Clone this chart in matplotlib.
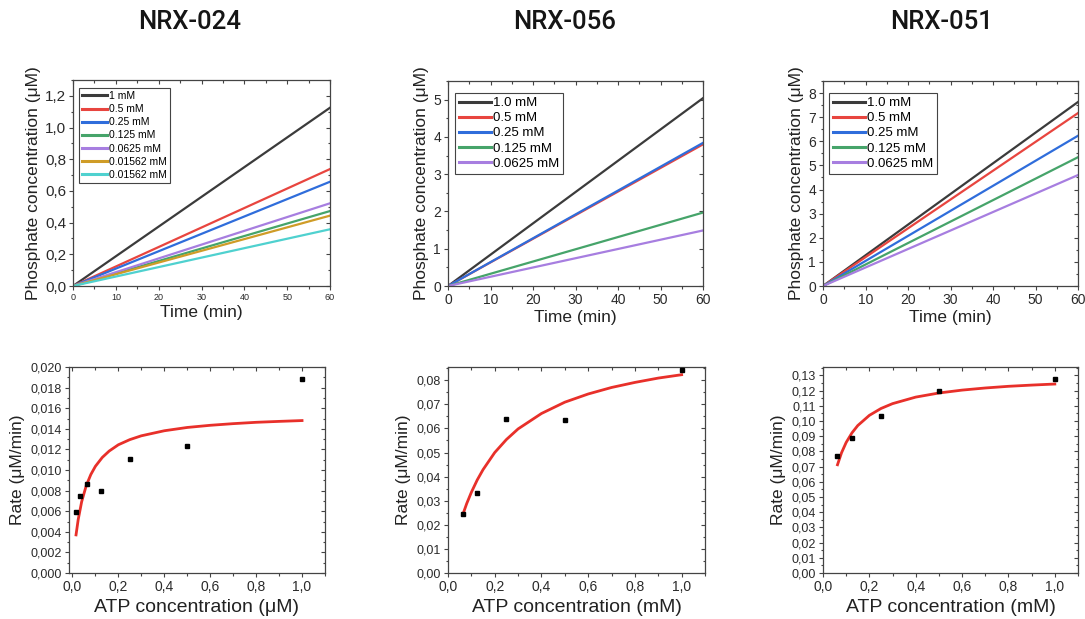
import matplotlib
matplotlib.use('Agg')
import matplotlib.pyplot as plt
from matplotlib.ticker import MultipleLocator, FuncFormatter

plt.rcParams['font.family'] = ['Liberation Sans', 'DejaVu Sans']

#%%
# Data
titles = ['NRX-024', 'NRX-056', 'NRX-051']
time_min = [0, 60]

# phosphate (uM) reached at 60 min, lines start at 0
labels_024 = ['1 mM', '0.5 mM', '0.25 mM', '0.125 mM', '0.0625 mM', '0.01562 mM', '0.01562 mM']
end_024 = [1.125, 0.738, 0.658, 0.473, 0.522, 0.444, 0.358]
labels_056 = ['1.0 mM', '0.5 mM', '0.25 mM', '0.125 mM', '0.0625 mM']
end_056 = [5.04, 3.80, 3.84, 1.97, 1.49]
labels_051 = ['1.0 mM', '0.5 mM', '0.25 mM', '0.125 mM', '0.0625 mM']
end_051 = [7.63, 7.17, 6.23, 5.34, 4.60]

colors = ['#3b3b3b', '#e8453f', '#2f6ddb', '#46a46a', '#a77ee0', '#cf9c27', '#4fd1cf']

# rates vs ATP
atp_024 = [0.0156, 0.03125, 0.0625, 0.125, 0.25, 0.5, 1.0]
rate_024 = [0.00596, 0.00748, 0.00867, 0.00796, 0.01104, 0.01233, 0.0188]
atp_056 = [0.0625, 0.125, 0.25, 0.5, 1.0]
rate_056 = [0.0246, 0.0331, 0.0640, 0.0636, 0.0844]
atp_051 = [0.0625, 0.125, 0.25, 0.5, 1.0]
rate_051 = [0.0767, 0.0888, 0.1032, 0.1197, 0.1276]

# fitted curves (red)
fit_x_024 = [0.0156, 0.025, 0.04, 0.06, 0.08, 0.1, 0.13, 0.16, 0.2, 0.25, 0.3, 0.4,
             0.5, 0.6, 0.7, 0.8, 0.9, 1.0]
fit_y_024 = [0.0037, 0.00518, 0.00691, 0.00848, 0.00956, 0.01036, 0.01122, 0.01184,
             0.01245, 0.01295, 0.01332, 0.01381, 0.01413, 0.01434, 0.0145, 0.01463,
             0.01472, 0.0148]
fit_x_056 = [0.0625, 0.08, 0.1, 0.125, 0.15, 0.2, 0.25, 0.3, 0.4, 0.5, 0.6, 0.7,
             0.8, 0.9, 1.0]
fit_y_056 = [0.0240, 0.0288, 0.0335, 0.0386, 0.0429, 0.0500, 0.0554, 0.0598, 0.0662,
             0.0709, 0.0743, 0.0770, 0.0791, 0.0809, 0.0823]
fit_x_051 = [0.0625, 0.08, 0.1, 0.125, 0.15, 0.2, 0.25, 0.3, 0.4, 0.5, 0.6, 0.7,
             0.8, 0.9, 1.0]
fit_y_051 = [0.0712, 0.0791, 0.0859, 0.0922, 0.0970, 0.1037, 0.1082, 0.1114, 0.1157,
             0.1184, 0.1203, 0.1217, 0.1228, 0.1236, 0.1243]


def comma(decimals):
    return FuncFormatter(lambda v, p: f'{v:.{decimals}f}'.replace('.', ','))


def style(ax, xmaj, ymaj, xdec, ydec, xsize, ysize):
    for s in ax.spines.values():
        s.set_color('#444444')
        s.set_linewidth(0.9)
    ax.xaxis.set_major_locator(MultipleLocator(xmaj))
    ax.xaxis.set_minor_locator(MultipleLocator(xmaj / 2))
    ax.yaxis.set_major_locator(MultipleLocator(ymaj))
    ax.yaxis.set_minor_locator(MultipleLocator(ymaj / 2))
    ax.xaxis.set_major_formatter(comma(xdec))
    ax.yaxis.set_major_formatter(comma(ydec))
    ax.tick_params(which='both', direction='out', color='#444444', width=0.8,
                   labelcolor='#2a2a2a', pad=2)
    ax.tick_params(which='major', length=3)
    ax.tick_params(which='minor', length=1.8)
    ax.tick_params(axis='x', labelsize=xsize)
    ax.tick_params(axis='y', labelsize=ysize)
    # mirrored inward ticks on top / right
    top = ax.secondary_xaxis('top')
    right = ax.secondary_yaxis('right')
    for sec, axis in ((top, top.xaxis), (right, right.yaxis)):
        axis.set_major_locator(MultipleLocator(xmaj if sec is top else ymaj))
        axis.set_minor_locator(MultipleLocator((xmaj if sec is top else ymaj) / 2))
        sec.tick_params(which='both', direction='in', color='#444444', width=0.8,
                        labelleft=False, labelright=False, labeltop=False, labelbottom=False)
        sec.tick_params(which='major', length=3)
        sec.tick_params(which='minor', length=1.8)
        sec.spines[:].set_visible(False)


fig = plt.figure(figsize=(10.85, 6.19), dpi=100)

title_x = [190, 565, 942]
for t, xp in zip(titles, title_x):
    fig.text(xp / 1085, 1 - 22 / 619, t, ha='center', va='center', fontsize=18.5,
             family=['Roboto', 'DejaVu Sans'], fontweight='medium', color='#151515')

#%%
# Top row: phosphate vs time
top_rects = [[73 / 1085, 333 / 619, 257 / 1085, 206 / 619],
             [448 / 1085, 333 / 619, 255 / 1085, 205 / 619],
             [823 / 1085, 333 / 619, 255 / 1085, 205 / 619]]
top_sets = [(labels_024, end_024, 1.3, 0.2, 1, 6.5, 11, 7.5, 0.3,
             (6 / 257, 1 - 8 / 206)),
            (labels_056, end_056, 5.5, 1, 0, 10, 10, 9.5, 0.22,
             (7 / 255, 1 - 12 / 205)),
            (labels_051, end_051, 8.5, 1, 0, 10, 10, 9.5, 0.22,
             (6 / 255, 1 - 12 / 205))]

for rect, (labs, ends, ymax, ymaj, ydec, xs, ys, legsize, lsp, anchor) in zip(top_rects, top_sets):
    ax = fig.add_axes(rect)
    for lab, end, col in zip(labs, ends, colors):
        ax.plot(time_min, [0, end], color=col, lw=1.6, label=lab)
    ax.set_xlim(0, 60)
    ax.set_ylim(0, ymax)
    style(ax, 10, ymaj, 0, ydec, xs, ys)
    ax.set_xlabel('Time (min)', fontsize=12.5, labelpad=2, color='#222222')
    ax.set_ylabel('Phosphate concentration (μM)', fontsize=12.5, labelpad=3,
                  color='#222222')
    leg = ax.legend(loc='upper left', bbox_to_anchor=anchor, borderaxespad=0,
                    fontsize=legsize, frameon=True, fancybox=False, framealpha=1,
                    edgecolor='#444444', handlelength=2.4, handletextpad=0.15,
                    labelspacing=lsp, borderpad=0.3)
    leg.get_frame().set_linewidth(0.8)
    for h in leg.get_lines():
        h.set_linewidth(2.2)

#%%
# Bottom row: rate vs ATP
bot_rects = [[69 / 1085, 46 / 619, 256 / 1085, 206 / 619],
             [448 / 1085, 46 / 619, 257 / 1085, 206 / 619],
             [823 / 1085, 46 / 619, 255 / 1085, 206 / 619]]
bot_sets = [(atp_024, rate_024, fit_x_024, fit_y_024, -0.015, 0.020, 0.002, 3,
             'ATP concentration (μM)'),
            (atp_056, rate_056, fit_x_056, fit_y_056, 0, 0.0855, 0.01, 2,
             'ATP concentration (mM)'),
            (atp_051, rate_051, fit_x_051, fit_y_051, 0, 0.1355, 0.01, 2,
             'ATP concentration (mM)')]

for rect, (xs_, ys_, fx, fy, xmin, ymax, ymaj, ydec, xlab) in zip(bot_rects, bot_sets):
    ax = fig.add_axes(rect)
    ax.plot(fx, fy, color='#e8302a', lw=2.0, zorder=2)
    ax.plot(xs_, ys_, 's', color='black', ms=3.3, zorder=3, clip_on=False)
    ax.set_xlim(xmin, 1.1)
    ax.set_ylim(0, ymax)
    style(ax, 0.2, ymaj, 1, ydec, 10, 9)
    ax.set_xlabel(xlab, fontsize=14, labelpad=4, color='#222222')
    ax.set_ylabel('Rate (μM/min)', fontsize=12.5, labelpad=4, color='#222222')

fig.savefig('out.png', dpi=100)
